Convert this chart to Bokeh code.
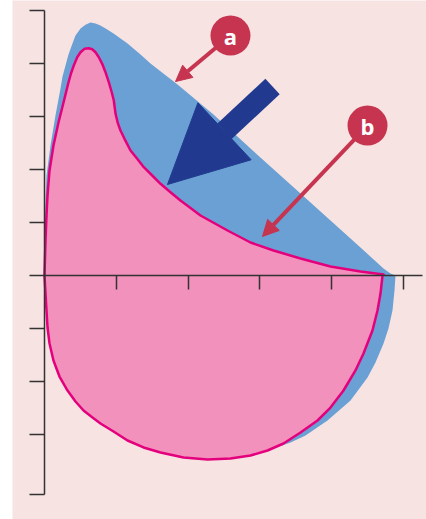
from bokeh.plotting import figure
from bokeh.models import LinearAxis, FixedTicker, Range1d, Arrow, NormalHead
from bokeh.core.properties import value
from bokeh.embed import file_html
from bokeh.resources import INLINE

# ---- data (in axis units) ----
# outer (blue) curve: upper part from origin over the peak to the x-axis
blue_top_x = [0.0, 0.007, 0.014, 0.028, 0.084, 0.153, 0.223, 0.251, 0.293, 0.334, 0.390,
              0.432, 0.502, 0.571, 0.641, 0.711, 0.780, 0.874, 0.962, 1.157, 1.338,
              1.477, 1.854, 2.355, 2.871, 3.568, 3.986, 4.404, 4.725, 4.822, 4.892]
blue_top_y = [0.0, 0.755, 1.415, 1.887, 2.453, 3.019, 3.528, 3.755, 3.962, 4.170, 4.377,
              4.528, 4.660, 4.730, 4.774, 4.755, 4.717, 4.642, 4.566, 4.377, 4.170,
              4.000, 3.604, 3.038, 2.396, 1.547, 1.038, 0.528, 0.132, 0.038, 0.0]
# outer (blue) curve: lower part back to the origin
blue_low_x = [4.878, 4.850, 4.794, 4.725, 4.613, 4.502, 4.265, 3.944, 3.638, 3.429,
              3.108, 2.871, 2.592, 2.272, 1.937, 1.617, 1.380, 1.157, 0.962, 0.780,
              0.544, 0.321, 0.125, 0.042, 0.014]
blue_low_y = [-0.283, -0.660, -1.000, -1.283, -1.642, -1.925, -2.358, -2.736, -3.019, -3.151,
              -3.302, -3.396, -3.453, -3.472, -3.434, -3.340, -3.245, -3.113, -2.943, -2.792,
              -2.547, -2.170, -1.604, -0.981, -0.340]

# inner (pink) curve: upper part
pink_top_x = [0.0, 0.014, 0.028, 0.042, 0.070, 0.125, 0.195, 0.265, 0.334, 0.369, 0.408,
              0.456, 0.502, 0.557, 0.617, 0.665, 0.711, 0.757, 0.804, 0.850, 0.896,
              0.934, 0.966, 0.990, 1.022, 1.059, 1.115, 1.199, 1.292, 1.384, 1.501,
              1.617, 1.756, 1.895, 2.035, 2.174, 2.551, 2.871, 3.192, 3.568, 3.986,
              4.404, 4.725]
pink_top_y = [0.0, 0.660, 1.132, 1.509, 1.981, 2.453, 2.887, 3.264, 3.642, 3.811, 3.962,
              4.119, 4.213, 4.277, 4.289, 4.270, 4.213, 4.119, 3.994, 3.836, 3.647,
              3.472, 3.302, 3.051, 2.874, 2.736, 2.579, 2.358, 2.202, 2.043, 1.887,
              1.730, 1.572, 1.415, 1.274, 1.132, 0.849, 0.623, 0.472, 0.321, 0.170,
              0.075, 0.019]
# inner (pink) curve: lower part
pink_low_x = [4.711, 4.683, 4.641, 4.571, 4.446, 4.334, 4.167, 3.986, 3.805, 3.568, 3.331,
              3.108, 2.871, 2.592, 2.272, 1.937, 1.617, 1.380, 1.157, 0.962, 0.780,
              0.669, 0.544, 0.432, 0.321, 0.209, 0.125, 0.070, 0.042, 0.028, 0.014]
pink_low_y = [0.0, -0.340, -0.660, -1.038, -1.472, -1.792, -2.170, -2.491, -2.736, -2.962,
              -3.170, -3.302, -3.396, -3.453, -3.472, -3.434, -3.340, -3.245, -3.113,
              -2.943, -2.792, -2.679, -2.547, -2.377, -2.170, -1.906, -1.604, -1.283,
              -0.981, -0.660, -0.340]

x_ticks = [1, 2, 3, 4, 5]
y_ticks = [-4.13, -3, -2, -1, 0, 1, 2, 3, 4, 5]

# callouts
callout_labels = ["a", "b"]
callout_x = [2.592, 4.502]
callout_y = [4.528, 2.830]
callout_tip_x = [1.826, 3.038]
callout_tip_y = [3.660, 0.736]

# big arrow
big_arrow_start = (3.178, 3.566)
big_arrow_end = (1.714, 1.717)

# ---- styles ----
BG = "#f6e3e2"
BLUE = "#6aa0d3"
PINK = "#f291bb"
MAGENTA = "#e4007d"
DARK = "#213a8f"
RED = "#c6344f"
AX = "#333333"

p = figure(width=426, height=519, output_backend="svg", toolbar_location=None,
           x_axis_type=None, y_axis_type=None,
           x_range=Range1d(-0.446, 5.324), y_range=Range1d(-4.604, 5.189),
           min_border_left=12, min_border_right=0, min_border_top=0, min_border_bottom=0)
p.background_fill_color = BG
p.border_fill_color = "white"
p.outline_line_color = None

p.patch(blue_top_x + blue_low_x, blue_top_y + blue_low_y,
        fill_color=BLUE, line_color=None)
p.patch(pink_top_x + pink_low_x, pink_top_y + pink_low_y,
        fill_color=PINK, line_color=MAGENTA, line_width=2.5, line_join="round")

xaxis = LinearAxis(fixed_location=0, ticker=FixedTicker(ticks=x_ticks), bounds=(0, 5.27),
                   axis_line_color=AX, axis_line_width=1.5,
                   major_tick_line_color=AX, major_tick_line_width=1.5,
                   major_tick_in=0, major_tick_out=14,
                   minor_tick_line_color=None, major_label_text_color=None)
yaxis = LinearAxis(fixed_location=0, ticker=FixedTicker(ticks=y_ticks), bounds=(-4.13, 5),
                   axis_line_color=AX, axis_line_width=1.5,
                   major_tick_line_color=AX, major_tick_line_width=1.5,
                   major_tick_in=0, major_tick_out=15,
                   minor_tick_line_color=None, major_label_text_color=None)
p.add_layout(xaxis, "below")
p.add_layout(yaxis, "left")

# big dark arrow
p.add_layout(Arrow(x_start=big_arrow_start[0], y_start=big_arrow_start[1],
                   x_end=big_arrow_end[0], y_end=big_arrow_end[1],
                   line_color=DARK, line_width=21,
                   end=NormalHead(size=78, fill_color=DARK, line_color=DARK, line_width=1)))

# callout arrows
for cx, cy, tx, ty in zip(callout_x, callout_y, callout_tip_x, callout_tip_y):
    p.add_layout(Arrow(x_start=cx, y_start=cy, x_end=tx, y_end=ty,
                       line_color=RED, line_width=4,
                       end=NormalHead(size=16, fill_color=RED, line_color=RED, line_width=1)))

p.scatter(callout_x, callout_y, marker="circle", size=40,
          fill_color=RED, line_color=None, level="overlay")
p.text(callout_x, callout_y, text=callout_labels, text_color="white",
       text_font=value("Open Sans"), text_font_style="bold", text_font_size="22px",
       text_align="center", text_baseline="middle", level="overlay")

open("out.html", "w").write(file_html(p, INLINE))
